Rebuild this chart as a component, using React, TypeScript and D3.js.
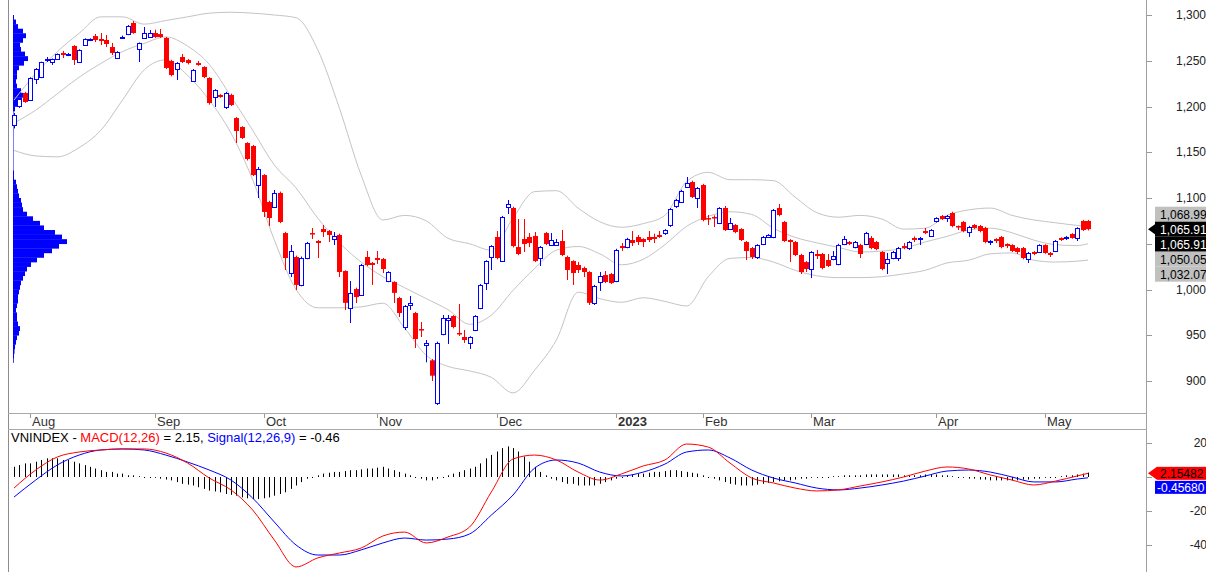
import React from 'react';
import * as d3 from 'd3';

// ---------- price data (one entry per trading day) ----------
const opens = [1179.8,1200.5,1214.8,1207.1,1230.1,1232.2,1250.8,1248.6,1251.9,1258.5,
 1256.3,1266.1,1248.6,1267.2,1272.5,1277,1273.8,1272.7,1265,1253,
 1274.9,1279.2,1291.3,1262.8,1274.9,1275.9,1280.3,1279.2,1274.9,1249.7,
 1241,1254.1,1250.8,1227.9,1247.5,1243.2,1231.2,1210.4,1212.6,1199.5,
 1212.6,1187.4,1177.6,1160.1,1156.8,1114.2,1125.1,1095.6,1090.2,1105.5,
 1061.7,1018,1035.5,1005,1034.4,1061.7,1053,1066.1,1063.9,1055.2,
 1059.6,1020.2,979.8,1000.5,994,1035.5,1029,1034.4,1033.3,1009.3,
 1008.2,990.7,959,983.1,974.3,956.8,939.4,922.6,876,951.4,
 966.7,971,952.5,948.1,941.6,955.7,979.8,1007.1,1035.5,1057.4,
 1031.1,1090.2,1089.1,1046.4,1055.2,1057.4,1058.5,1034.4,1061.7,1048.6,
 1048.6,1053,1035.5,1031.1,1026.8,1023.5,1019.1,985.2,1008.2,1015.8,
 1016.9,1009.3,1047.5,1046.4,1054.1,1057.4,1055.2,1057.4,1057.4,1059.6,
 1061.7,1070.5,1091.3,1095.6,1112,1117.5,1100,1114.2,1078.1,1079.2,
 1072.7,1089.1,1066.1,1070.5,1066.1,1051.9,1045.3,1035.5,1049.7,1057.4,
 1057.4,1089.1,1073.8,1054.1,1051.9,1037.7,1030,1022.4,1038.8,1038.8,
 1032.2,1033.3,1027.9,1049.7,1051.9,1046.4,1048.6,1049.7,1056.3,1051.9,
 1041,1029,1034.4,1034.4,1047.5,1045.3,1056.3,1055.2,1063.9,1058.5,
 1074.9,1080.3,1078.1,1083.6,1069.4,1073.8,1062.8,1070.5,1069.4,1067.2,
 1051.9,1055.2,1057.4,1049.7,1048.6,1045.3,1045.3,1033.3,1041,1041,
 1048.6,1039.9,1042.1,1056.3,1056.3,1060.7,1056.3,1074.9,1074.9];

const highs = [1193,1209,1216,1232,1242,1249,1254.1,1252.5,1258,1260.7,
 1258.5,1267,1262.5,1274.5,1274.5,1279.2,1280.3,1278.1,1269.4,1260.5,
 1277.5,1289,1293.4,1270,1286.9,1283.6,1284,1284.7,1276,1251,
 1248.5,1257.4,1252,1241,1249.7,1244,1232,1219,1213.5,1216,
 1214,1188.5,1178.5,1161,1158,1133.9,1126,1097,1108.7,1107,
 1063,1048.6,1037,1036,1052,1067.2,1054,1070.5,1065,1062.8,
 1061,1021,1009.3,1002,1028,1042.1,1030,1042.1,1034.5,1020,
 1009,992,983,992.9,975.5,964.5,944.8,924,943,972.1,
 972.1,972,984.2,955.7,949,972,1006,1032,1048.5,1063.9,
 1080.5,1097.8,1090.5,1077,1077,1061.7,1062.8,1047.5,1062.8,1061.7,
 1055.2,1065,1037,1032,1030,1025,1020,1005,1019.1,1020.2,
 1018,1044.5,1050.8,1056.5,1063.9,1059.6,1056,1063.9,1061,1063.9,
 1066,1089,1099,1109,1122.9,1119,1112,1115.5,1081.4,1081,
 1090,1091.3,1078.1,1071.5,1067,1053,1046.5,1049.5,1058.5,1060.5,
 1088,1093.4,1075,1055,1053,1039,1031,1042,1043.2,1040,
 1038.8,1042.1,1050,1058.5,1053,1053,1050,1063,1058.5,1053,
 1042,1039.9,1042,1046.5,1050.8,1053,1058,1057.5,1067.2,1066,
 1079,1081.5,1081.5,1085,1070,1075,1069.5,1071.5,1070.5,1068.5,
 1054,1056,1058.5,1050.5,1049.5,1046.5,1046.5,1041,1042,1049.5,
 1049.5,1041,1054,1057,1058.5,1061.5,1068,1076,1076];

const lows = [1176,1198.4,1204,1206,1224.6,1231,1248.6,1245.4,1251,1253,
 1255,1245.4,1247.5,1266.5,1271.5,1270.5,1267.2,1265,1256.3,1252,
 1274,1278,1279.5,1248.6,1274,1275,1275,1275,1241,1233,
 1229,1247.5,1246,1227,1244.5,1231,1202,1199.5,1209.5,1197.3,
 1200.5,1160.1,1164.5,1141,1124,1100,1079.2,1069.4,1089,1072.5,
 1021.3,1013.6,999.5,1003.5,1033,1055.2,1034.4,1057.4,1051.9,1048.6,
 1013.6,977.6,963.4,985.2,993,1025.5,1005,1027.9,1018,1008,
 985.2,969.9,955.7,977.6,936.1,948.1,920.4,900,873.8,950,
 940.5,957.5,949.2,941.6,935,954.5,978.5,999.5,1021.3,1033,
 1030,1082.5,1046,1037.5,1041,1046.4,1030,1025.7,1048.5,1047.5,
 1047.5,1036.5,1010.4,1005,1018,1013.6,983.1,983.1,998.4,1007,
 1006,1008,1042.1,1045,1047.5,1048.6,1046.4,1051.9,1050.8,1056.3,
 1059.6,1068.3,1089.1,1094.5,1111,1100,1089.1,1074.5,1070.5,1068.3,
 1071.5,1064,1065,1061.5,1053,1032.2,1033.3,1033.3,1048.5,1056.5,
 1056,1080,1052,1030,1036.5,1016.9,1019.1,1012.5,1033.3,1022,
 1024.5,1032,1026.5,1048.5,1048.5,1045,1034.4,1048.5,1044,1043,
 1021,1016.9,1033,1031.1,1044,1043.2,1051.9,1048.6,1060.5,1057.5,
 1073.2,1076,1073.8,1068,1065,1062.5,1057.4,1066,1062.5,1050.5,
 1048.6,1050.8,1045,1045.3,1041,1038.8,1033,1029,1037.5,1040,
 1039,1035.5,1041,1053,1054.1,1055.5,1053,1064,1064.5];

const closes = [1190.7,1208.2,1204.9,1231.2,1241,1248.6,1251.9,1251.9,1257.4,1256.3,
 1257.4,1250.8,1261.7,1273.8,1273.5,1272.7,1271.6,1268.3,1258.5,1259.6,
 1276.5,1288,1280.3,1269.4,1280.3,1280.3,1275.9,1275.9,1242.1,1234.4,
 1247.5,1248.6,1247.5,1239.9,1245.4,1232.2,1203.8,1218,1210.4,1214.8,
 1201.6,1173.2,1165.6,1142.6,1125.1,1131.7,1084.7,1078.1,1105.5,1073.8,
 1034.4,1042.1,1005,1034.4,1050.8,1061,1050.8,1062.8,1059.6,1058.5,
 1019.1,985.4,996.3,991.7,1026.8,1026.8,1026.8,1032.2,1022.4,1019.1,
 996.3,974.3,982,985.2,945.9,955.7,941.6,905.8,941.6,968.9,
 968.9,959,951.4,944.8,948.1,971,1005,1031.1,1047.5,1034.4,
 1079.2,1093.4,1047.5,1038.8,1049.7,1050.8,1031.1,1046.4,1049.7,1054.1,
 1051.9,1037.7,1021.3,1018,1021.3,1019.1,985.4,1003.8,1014.7,1008.2,
 1007.1,1043.2,1045.3,1055.2,1050.8,1051.9,1051.9,1054.1,1055.2,1057.4,
 1065,1087.9,1097.8,1107.6,1116.4,1101.1,1110.9,1076,1077,1078.1,
 1089.1,1065,1072.7,1062.8,1054.1,1042.1,1035.5,1048.6,1057.4,1059.6,
 1086.9,1081.4,1053,1051.9,1037.7,1019.1,1022.4,1041,1036.6,1023.5,
 1025.7,1036.6,1048.6,1055.2,1049.7,1051.9,1038.8,1061.7,1045.3,1044.2,
 1022.4,1033.3,1041,1045.3,1045.3,1051.9,1054.1,1056.3,1061.7,1065,
 1078.1,1077,1080.3,1069.4,1068.3,1063.9,1068.3,1067.2,1063.9,1051.9,
 1053,1053,1046.4,1047.5,1042.1,1041,1034.4,1039.9,1038.8,1048.6,
 1039.9,1037.7,1053,1054.1,1057.4,1056.3,1067.2,1065,1065.91];

// ---------- Bollinger bands, read at these bar indices ----------
const bandIdx = [0,4,8,12,16,20,24,28,32,36,40,44,48,52,56,60,64,68,72,76,80,84,88,92,96,100,
 104,108,112,116,120,124,128,132,136,140,144,148,152,156,160,164,168,172,176,180,184,188,192,196,198];
const upperBand = [1207,1236,1260,1280,1298,1298,1290,1294,1298,1302,1303,1302,1300,1297,1262,1198,1125,1076,1081,1075,
 1056,1050,1043,1078,1107,1108,1089,1074,1068,1072,1081,1118,1128,1120,1120,1119,1101,1084,1079,1081,
 1077,1066,1067,1081,1087,1089,1081,1076,1073,1070,1068.99];
const middleBand = [1182,1196,1214,1232,1247,1260,1269,1276,1266,1246,1211,1174,1136,1111,1078,1051,1030,1014,1002,990,
 978,962,972,999,1023,1043,1047,1039,1027,1033,1049,1069,1080,1085,1082,1067,1057,1051,1046,1041,
 1042,1045,1052,1058,1065,1067,1062,1054,1049,1048,1050.05];
const lowerBand = [1152,1146,1145,1155,1174,1207,1240,1251,1234,1207,1171,1120,1054,1000,980,980,981,985,958,928,
 916,911,904,887,912,945,997,990,986,991,987,982,1014,1034,1035,1030,1021,1015,1013,1013,
 1014,1017,1021,1029,1032,1039,1040,1032,1030,1031,1032.07];

// ---------- MACD panel ----------
const macdLine = [-6.5,4.1,11.8,14.7,15.9,16.5,16.5,14.1,8.2,-0.6,-7.6,-19.4,-37.1,-52.9,-47.6,-44.7,-41.8,-34.7,-32.4,-38.8,
 -35.3,-29.4,-8.8,10.6,12.9,10.0,2.9,-1.8,1.8,6.5,10.0,19.4,17.6,8.2,-0.6,-3.5,-6.5,-8.2,-7.6,-5.3,
 -2.9,0,3.5,5.9,4.7,1.2,-1.8,-4.7,-2.4,0.6,2.15482];
const signalLine = [-11.8,-1.8,7.1,12.9,15.9,16.5,15.9,12.9,8.8,4.1,-1.8,-12.4,-26.5,-40.0,-45.9,-45.9,-42.9,-38.8,-35.9,-37.1,
 -36.5,-33.5,-22.4,-10.6,5.3,10.0,8.2,2.9,0.6,2.9,7.6,14.7,15.9,11.2,4.1,-0.6,-3.5,-6.5,-7.6,-6.5,
 -4.7,-2.4,0.6,3.5,4.1,2.9,0,-2.9,-2.9,-1.2,-0.4568];
const macdHist = [6,7,8,8, 9,10,11,11,11,10,10, 9,8,7,6,5,4,3, 3,2,2,1,1,0.5,0, 0,-0.5,-1,-1.5,-2,-3,
 -4,-4.5,-5,-6,-7,-8,-8.5,-9,-10,-10.5, -11,-12,-12.5,-13,-13,-12.5,-12,-11,-10,-9,
 -7,-5,-3,-1,0,1, 2,2.5,3,3,3.5,4,4,4.5,5,5, 5.5,6,5,4,3,2, 1,0,-1,-2,-2,-1,0,1,
 2,3,4,5,6,8, 11,13,15,17,18,17, 15,12,9,6,3,1, -1,-2,-3,-4,-4,-5, -5,-5,-5,-4,-3,-2,-1,0,
 1,1.5,2,2,2.5,3,3,3.5,4,4,3.5,3, 2.5,2,1,0,-1,-2, -3,-4,-4.5,-5,-5,-5,-4.5,-4,-3.5,-3,
 -2.5,-2,-2,-1.5,-1,-1,-0.5,-0.5,0,0, 0.5,0.5,1,1,1,1,1.5,1.5,1.5,1.5,1.5,1.5,1.5,1,1,
 1,1,1.5,1.5,1.5,1,1,0.5,0,-0.5, -1,-1,-1.5,-1.5,-2,-2,-2,-2,-2,-2, -1.5,-1.5,-1,-1,-0.5,0,0,
 0.5,1,1,1.5,2,2.6];

// ---------- volume-at-price profile (5-point bins from 1300 down) ----------
const profileVolume = [1,3,5,10,13,10,7,8,12,15,11,6,4,4,3,4,8,10,9,6,2,
 0,0,0,0,0,0,0,0,0,0,0,0,0,
 1,1,3,4,5,6,8,9,10,14,20,27,31,42,49,54,46,39,31,24,18,14,12,10,8,7,6,5,5,4,3,4,4,5,7,6,4,3,2,1.5,1,0.5];
const profileTop = 1300;
const profileStep = 5;

// ---------- axes ----------
const monthLabels = ['Aug','Sep','Oct','Nov','Dec','2023','Feb','Mar','Apr','May'];
const monthStartIdx = [3,26,46,67,89,111,127,147,170,190];
const priceTicks = [900,950,1000,1050,1100,1150,1200,1250,1300];
const macdTicks = [-40,-20,0,20];

const FONT = "'Liberation Sans', Arial, Helvetica, sans-serif";
const BLUE = '#0000ff';
const RED = '#ff0000';

export default function App() {
  const N = closes.length;
  const x = d3.scaleLinear().domain([0, N - 1]).range([14, 1088]);
  const yP = d3.scaleLinear().domain([900, 1300]).range([381, 15]);
  const yM = d3.scaleLinear().domain([-40, 20]).range([545, 443]);
  const profX = d3.scaleLinear().domain([0, 54]).range([0, 54]);

  const bandPath = (vals: number[]) =>
    d3.line<number>().x((_, i) => x(bandIdx[i])).y(v => yP(v)).curve(d3.curveMonotoneX)(vals) || '';
  const macdPath = (vals: number[]) =>
    d3.line<number>().x((_, i) => x(bandIdx[i])).y(v => yM(v)).curve(d3.curveMonotoneX)(vals) || '';

  const fmtP = d3.format(',.2f');
  const fmtTick = d3.format(',');
  const lastClose = closes[N - 1];
  const lastUpper = upperBand[upperBand.length - 1];
  const lastMid = middleBand[middleBand.length - 1];
  const lastLow = lowerBand[lowerBand.length - 1];
  const lastMacd = macdLine[macdLine.length - 1];
  const lastSig = signalLine[signalLine.length - 1];

  const priceLabels = [
    { v: lastUpper, bg: '#c0c0c0', fg: '#000' },
    { v: lastClose, bg: '#000', fg: '#fff', arrow: true },
    { v: lastClose, bg: '#000', fg: '#fff' },
    { v: lastMid, bg: '#c0c0c0', fg: '#000' },
    { v: lastLow, bg: '#c0c0c0', fg: '#000' },
  ];
  const closeY = yP(lastClose);
  const boxH = 15;
  const boxesTop = closeY - boxH / 2 - boxH;
  const boxesBottom = boxesTop + boxH * priceLabels.length;

  const macdY = yM(lastMacd);
  const macdBoxTop = macdY - 6.5;
  const macdBoxBottom = macdY + 20.5;

  const axisX = 1146.5;

  return (
    <svg width={1206} height={572} style={{ position: 'absolute', left: 0, top: 0, background: '#fff' }}
      fontFamily={FONT}>
      <defs>
        <clipPath id="pclip"><rect x={9} y={0} width={1137} height={413} /></clipPath>
        <clipPath id="mclip"><rect x={9} y={430} width={1137} height={142} /></clipPath>
      </defs>
      <rect x={0} y={0} width={1206} height={572} fill="#fff" />

      {/* volume profile */}
      <g clipPath="url(#pclip)">
        <line x1={13.5} x2={13.5} y1={yP(1297)} y2={yP(920)} stroke="#8080ff" strokeWidth={1} />
        {profileVolume.map((v, k) => {
          if (v <= 0) return null;
          const hi = profileTop - k * profileStep;
          const lo = hi - profileStep;
          return <rect key={k} x={13} y={yP(hi)} width={profX(v)} height={yP(lo) - yP(hi) + 0.3} fill={BLUE} />;
        })}
      </g>

      {/* bollinger bands */}
      <g clipPath="url(#pclip)" fill="none" stroke="#c4c4c4" strokeWidth={1}>
        <path d={bandPath(upperBand)} />
        <path d={bandPath(middleBand)} />
        <path d={bandPath(lowerBand)} />
      </g>

      {/* candles */}
      <g clipPath="url(#pclip)">
        {closes.map((c, i) => {
          const o = opens[i], h = highs[i], l = lows[i];
          const cx = Math.round(x(i));
          const up = c >= o;
          const top = yP(Math.max(o, c));
          const bot = yP(Math.min(o, c));
          const col = up ? BLUE : RED;
          return (
            <g key={i}>
              <line x1={cx + 0.5} x2={cx + 0.5} y1={yP(h)} y2={yP(l)} stroke={col} strokeWidth={1} />
              {up ? (
                <rect x={cx - 1.5} y={Math.round(top) + 0.5} width={4} height={Math.max(1, Math.round(bot - top))}
                  fill="#fff" stroke={col} strokeWidth={1} />
              ) : (
                <rect x={cx - 2} y={top} width={5} height={Math.max(1.5, bot - top)} fill={col} />
              )}
            </g>
          );
        })}
      </g>

      {/* frame lines */}
      <line x1={8.5} x2={8.5} y1={0} y2={572} stroke="#8c8c8c" />
      <line x1={axisX} x2={axisX} y1={0} y2={572} stroke="#a0a0a0" />
      <line x1={8} x2={1147} y1={413.5} y2={413.5} stroke="#a8a8a8" />
      <line x1={8} x2={1147} y1={429.5} y2={429.5} stroke="#a8a8a8" />

      {/* time axis */}
      {monthStartIdx.map((idx, k) => {
        const tx = Math.round(x(idx)) + 0.5;
        return (
          <g key={k}>
            <line x1={tx} x2={tx} y1={414} y2={418} stroke="#999" />
            <text x={tx + 1.5} y={426} fontSize={13} fill="#333"
              fontWeight={monthLabels[k] === '2023' ? 'bold' : 'normal'}>{monthLabels[k]}</text>
          </g>
        );
      })}

      {/* price axis */}
      {priceTicks.map(t => {
        const ty = yP(t);
        const hidden = ty > boxesTop - 6 && ty < boxesBottom + 6;
        return (
          <g key={t}>
            <line x1={1147} x2={1152} y1={Math.round(ty) + 0.5} y2={Math.round(ty) + 0.5} stroke="#999" />
            {!hidden && (
              <text x={1206} y={ty} dy="0.35em" fontSize={12} textAnchor="end" fill="#222">{fmtTick(t)}</text>
            )}
          </g>
        );
      })}

      {/* price labels */}
      {priceLabels.map((p, k) => {
        const yTop = boxesTop + k * boxH;
        return (
          <g key={k}>
            <rect x={1155} y={yTop} width={60} height={boxH} fill={p.bg} />
            {p.arrow && (
              <path d={`M1148,${closeY} L1155,${closeY - 5} L1155,${closeY + 5} Z`} fill={p.bg} />
            )}
            <text x={1160} y={yTop + boxH / 2} dy="0.36em" fontSize={12} fill={p.fg}>{fmtP(p.v)}</text>
          </g>
        );
      })}

      {/* MACD panel */}
      <g clipPath="url(#mclip)">
        {macdHist.map((h, i) => {
          const cx = Math.round(x(i)) + 0.5;
          return <line key={i} x1={cx} x2={cx} y1={yM(0)} y2={yM(h) === yM(0) ? yM(0) + 1 : yM(h)} stroke="#000" strokeWidth={1} />;
        })}
        <path d={macdPath(signalLine)} fill="none" stroke={BLUE} strokeWidth={1} />
        <path d={macdPath(macdLine)} fill="none" stroke={RED} strokeWidth={1} />
      </g>

      <text x={11} y={441.5} fontSize={13} fill="#000">
        <tspan>VNINDEX - </tspan>
        <tspan fill={RED}>MACD(12,26)</tspan>
        <tspan>{` = ${lastMacd.toFixed(2)}, `}</tspan>
        <tspan fill={BLUE}>Signal(12,26,9)</tspan>
        <tspan>{` = ${lastSig.toFixed(2)}`}</tspan>
      </text>

      {macdTicks.map(t => {
        const ty = yM(t);
        const hidden = ty > macdBoxTop - 6 && ty < macdBoxBottom + 6;
        return (
          <g key={t}>
            <line x1={1147} x2={1152} y1={Math.round(ty) + 0.5} y2={Math.round(ty) + 0.5} stroke="#999" />
            {!hidden && (
              <text x={1207} y={ty} dy="0.35em" fontSize={12} textAnchor="end" fill="#222">{t}</text>
            )}
          </g>
        );
      })}

      {/* MACD value labels */}
      <g>
        <path d={`M1148,${macdY} L1157,${macdY - 6.5} L1157,${macdY + 6.5} Z`} fill={RED} />
        <rect x={1157} y={macdBoxTop} width={60} height={13} fill={RED} />
        <text x={1160} y={macdY} dy="0.36em" fontSize={12} fill="#000">{lastMacd.toFixed(5)}</text>
        <rect x={1155} y={macdY + 7.5} width={60} height={13} fill={BLUE} />
        <text x={1157} y={macdY + 14} dy="0.36em" fontSize={12} fill="#fff">{lastSig.toFixed(5)}</text>
      </g>
    </svg>
  );
}
